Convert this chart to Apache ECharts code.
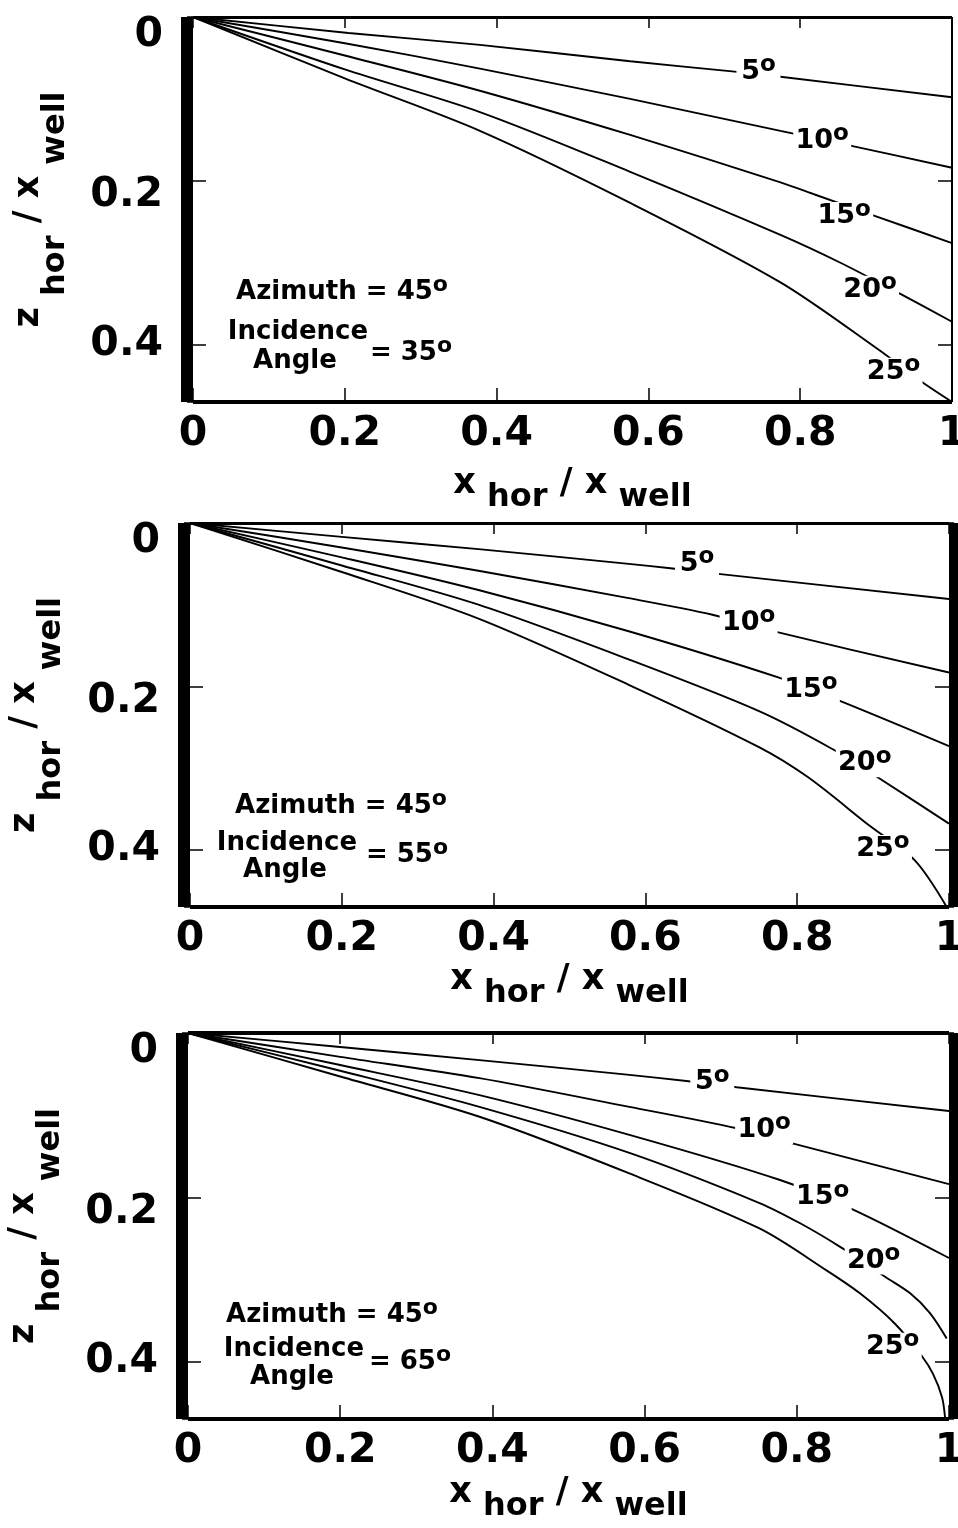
<!DOCTYPE html>
<html><head><meta charset="utf-8">
<script src="https://cdn.jsdelivr.net/npm/echarts@6/dist/echarts.min.js"></script>
<style>html,body{margin:0;padding:0;background:#fff}#c{width:958px;height:1528px}</style>
</head><body><div id="c"></div>
<script>
// ---- tick labels / texts ----
const xTickLabels = ['0', '0.2', '0.4', '0.6', '0.8', '1'];
const yTickLabels = ['0', '0.2', '0.4'];
const curveNames = ['5', '10', '15', '20', '25'];
const incidenceAngles = ['35', '55', '65'];
const azimuthAngle = '45';

// ---- panel 1: incidence 35 ----
const inc35_a5  = [[0,0],[0.205,0.0195],[0.378,0.034],[0.576,0.054],[0.717,0.067],[0.774,0.073],[1,0.098]];
const inc35_a10 = [[0,0],[0.2,0.032],[0.378,0.063],[0.576,0.100],[0.774,0.139],[0.866,0.157],[1,0.184]];
const inc35_a15 = [[0,0],[0.2,0.047],[0.378,0.090],[0.576,0.144],[0.774,0.202],[0.820,0.217],[0.899,0.243],[1,0.276]];
const inc35_a20 = [[0,0],[0.2,0.064],[0.378,0.116],[0.576,0.189],[0.774,0.266],[0.853,0.300],[0.932,0.338],[1,0.372]];
const inc35_a25 = [[0,0],[0.2,0.075],[0.378,0.139],[0.576,0.227],[0.774,0.324],[0.903,0.406],[0.961,0.446],[1,0.47]];
const inc35_labels = [[0.745,0.067],[0.829,0.151],[0.858,0.243],[0.892,0.333],[0.923,0.433]];

// ---- panel 2: incidence 55 ----
const inc55_a5  = [[0,0],[0.2,0.017],[0.380,0.032],[0.578,0.050],[0.630,0.055],[0.693,0.062],[1,0.093]];
const inc55_a10 = [[0,0],[0.2,0.030],[0.380,0.0585],[0.578,0.092],[0.687,0.112],[0.771,0.133],[1,0.183]];
const inc55_a15 = [[0,0],[0.2,0.042],[0.380,0.082],[0.578,0.1325],[0.775,0.189],[0.857,0.218],[1,0.273]];
const inc55_a20 = [[0,0],[0.2,0.052],[0.380,0.100],[0.578,0.167],[0.749,0.230],[0.845,0.276],[0.909,0.313],[1,0.368]];
const inc55_a25 = [[0,0],[0.2,0.060],[0.380,0.117],[0.578,0.198],[0.749,0.274],[0.814,0.311],[0.896,0.371],[0.955,0.413],[0.997,0.47]];
const inc55_labels = [[0.668,0.050],[0.736,0.122],[0.818,0.204],[0.889,0.294],[0.913,0.399]];

// ---- panel 3: incidence 65 ----
const inc65_a5  = [[0,0],[0.2,0.017],[0.383,0.033],[0.580,0.051],[0.655,0.0585],[0.721,0.066],[1,0.095]];
const inc65_a10 = [[0,0],[0.2,0.029],[0.383,0.055],[0.580,0.090],[0.721,0.116],[0.793,0.134],[1,0.184]];
const inc65_a15 = [[0,0],[0.2,0.039],[0.383,0.0756],[0.580,0.124],[0.778,0.179],[0.874,0.215],[1,0.274]];
const inc65_a20 = [[0,0],[0.2,0.046],[0.383,0.090],[0.580,0.146],[0.751,0.207],[0.805,0.232],[0.858,0.261],[0.918,0.298],[0.949,0.317],[0.975,0.341],[0.997,0.372]];
const inc65_a25 = [[0,0],[0.2,0.053],[0.383,0.102],[0.580,0.171],[0.751,0.238],[0.839,0.289],[0.883,0.317],[0.929,0.354],[0.964,0.393],[0.979,0.415],[0.991,0.444],[0.995,0.47]];
const inc65_labels = [[0.689,0.060],[0.757,0.118],[0.834,0.200],[0.901,0.277],[0.926,0.382]];

const FONT = 'DejaVu Sans';
const BLACK = '#000';

const panels = [
  { curves: [inc35_a5, inc35_a10, inc35_a15, inc35_a20, inc35_a25], labels: inc35_labels, inc: incidenceAngles[0],
    grid: { left: 193, right: 6, top: 17, height: 385 }, rightW: 2, rightOff: 0, topW: 3, xNameGap: 64, yNameGap: 86,
    ann: { az: [342, 292], incd: [298, 332], ang: [295, 361], eq: [411, 353] } },
  { curves: [inc55_a5, inc55_a10, inc55_a15, inc55_a20, inc55_a25], labels: inc55_labels, inc: incidenceAngles[1],
    grid: { left: 190, right: 9, top: 523, height: 384 }, rightW: 10, rightOff: 5, topW: 3, xNameGap: 55, yNameGap: 87,
    ann: { az: [341, 806], incd: [287, 843], ang: [285, 870], eq: [407, 855] } },
  { curves: [inc65_a5, inc65_a10, inc65_a15, inc65_a20, inc65_a25], labels: inc65_labels, inc: incidenceAngles[2],
    grid: { left: 188, right: 9, top: 1033, height: 386 }, rightW: 10, rightOff: 5, topW: 4, xNameGap: 56, yNameGap: 86,
    ann: { az: [332, 1315], incd: [294, 1349], ang: [292, 1377], eq: [410, 1362] } }
];

function xFmt(v) {
  const i = Math.round(v / 0.2);
  if (Math.abs(v - i * 0.2) > 1e-6 || i >= xTickLabels.length) return '';
  return xTickLabels[i];
}
function yFmt(v) {
  const i = Math.round(v / 0.2);
  if (Math.abs(v - i * 0.2) > 1e-6 || i >= yTickLabels.length) return '';
  if (i === 0) return '{s0| }\n{t|' + yTickLabels[i] + '}';
  if (i === 1) return '{s1| }\n{t|' + yTickLabels[i] + '}';
  return '{t|' + yTickLabels[i] + '}';
}
const yLabelRich = {
  t: { fontFamily: FONT, fontWeight: 'bold', fontSize: 41, color: BLACK, lineHeight: 30 },
  s0: { fontSize: 10, lineHeight: 36 },
  s1: { fontSize: 10, lineHeight: 30 }
};

const nameRich = (subLH) => ({
  v: { fontFamily: FONT, fontWeight: 'bold', fontSize: 35, color: BLACK, lineHeight: 38, verticalAlign: 'top' },
  s: { fontFamily: FONT, fontWeight: 'bold', fontSize: 32, color: BLACK, lineHeight: subLH, verticalAlign: 'middle' }
});
const degRich = (size, osize) => ({
  n: { fontFamily: FONT, fontWeight: 'bold', fontSize: size, color: BLACK, lineHeight: 36, verticalAlign: 'middle' },
  o: { fontFamily: FONT, fontWeight: 'bold', fontSize: osize, color: BLACK, lineHeight: 9, verticalAlign: 'top' }
});

const grid = [], xAxis = [], yAxis = [], series = [], graphic = [];
panels.forEach((p, k) => {
  grid.push(Object.assign({ outerBoundsMode: 'none', containLabel: false }, p.grid));
  xAxis.push({
    gridIndex: k, type: 'value', min: 0, max: 1, interval: 0.2, position: 'bottom',
    axisLine: { show: true, onZero: false, lineStyle: { color: BLACK, width: 4, cap: 'butt' } },
    axisTick: { show: true, inside: true, length: 14, lineStyle: { color: BLACK, width: 1.5 } },
    axisLabel: { show: true, margin: 12, formatter: xFmt, fontFamily: FONT, fontWeight: 'bold', fontSize: 41, color: BLACK },
    splitLine: { show: false },
    name: '{v|x}{s| hor}{v| / x}{s| well}', nameLocation: 'middle', nameGap: p.xNameGap,
    nameTextStyle: { rich: nameRich(64) }
  });
  xAxis.push({
    gridIndex: k, type: 'value', min: 0, max: 1, interval: 0.2, position: 'top',
    axisLine: { show: true, onZero: false, lineStyle: { color: BLACK, width: p.topW, cap: 'butt' } },
    axisTick: { show: true, inside: true, length: 11, lineStyle: { color: BLACK, width: 1.5 } },
    axisLabel: { show: false }, splitLine: { show: false }
  });
  yAxis.push({
    gridIndex: k, type: 'value', inverse: true, min: 0, max: 0.47, interval: 0.2, position: 'left', offset: 6,
    axisLine: { show: true, onZero: false, lineStyle: { color: BLACK, width: 12, cap: 'butt' } },
    axisTick: { show: true, inside: true, length: 19, lineStyle: { color: BLACK, width: 1.5 } },
    axisLabel: { show: true, margin: 24, formatter: yFmt, rich: yLabelRich, fontFamily: FONT, fontWeight: 'bold', fontSize: 41, color: BLACK },
    splitLine: { show: false },
    name: '{v|z}{s| hor}{v| / x}{s| well}', nameLocation: 'middle', nameRotate: 90, nameGap: p.yNameGap,
    nameTextStyle: { rich: nameRich(90) }
  });
  yAxis.push({
    gridIndex: k, type: 'value', inverse: true, min: 0, max: 0.47, interval: 0.2, position: 'right', offset: p.rightOff,
    axisLine: { show: true, onZero: false, lineStyle: { color: BLACK, width: p.rightW, cap: 'butt' } },
    axisTick: { show: true, inside: true, length: 14 + p.rightOff, lineStyle: { color: BLACK, width: 1.5 } },
    axisLabel: { show: false }, splitLine: { show: false }
  });
  p.curves.forEach((c, i) => {
    series.push({
      type: 'line', name: p.inc + '-' + curveNames[i], xAxisIndex: 2 * k, yAxisIndex: 2 * k, data: c,
      showSymbol: false, symbol: 'none', smooth: 0.3, silent: true, z: 2,
      lineStyle: { color: BLACK, width: 1.9 }
    });
  });
  series.push({
    type: 'scatter', xAxisIndex: 2 * k, yAxisIndex: 2 * k, silent: true, z: 5, symbol: 'rect',
    data: p.labels.map((v, i) => ({ value: v, symbolSize: [curveNames[i].length > 1 ? 58 : 44, 28] })),
    itemStyle: { color: '#fff', opacity: 1 },
    label: { show: true, position: 'inside', color: BLACK, formatter: (d) => '{n|' + curveNames[d.dataIndex] + '}{o|o}', rich: degRich(27, 23) }
  });
  const txt = (pos, text) => ({
    type: 'text', x: pos[0], y: pos[1], silent: true, z: 10,
    style: { text: text, fill: BLACK, font: 'bold 26px "' + FONT + '"', align: 'center', verticalAlign: 'middle', rich: degRich(26, 22) }
  });
  graphic.push(txt(p.ann.az, '{n|Azimuth = ' + azimuthAngle + '}{o|o}'));
  graphic.push(txt(p.ann.incd, '{n|Incidence}'));
  graphic.push(txt(p.ann.ang, '{n|Angle}'));
  graphic.push(txt(p.ann.eq, '{n|= ' + p.inc + '}{o|o}'));
});

const chart = echarts.init(document.getElementById('c'), null, { renderer: 'canvas' });
chart.setOption({ animation: false, backgroundColor: '#fff', grid, xAxis, yAxis, series, graphic });
</script>
</body></html>
